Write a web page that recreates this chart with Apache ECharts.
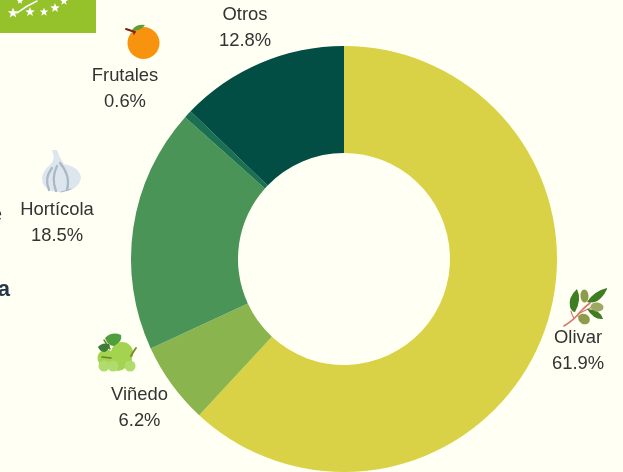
<!DOCTYPE html>
<html><head><meta charset="utf-8">
<style>html,body{margin:0;padding:0;background:#FFFFF3}#c{width:623px;height:472px}</style>
<script src="https://cdn.jsdelivr.net/npm/echarts@6/dist/echarts.min.js"></script>
</head><body><div id="c"></div>
<script>
const categories = ['Olivar','Viñedo','Hortícola','Frutales','Otros'];
const shares = [61.9,6.2,18.5,0.6,12.8];
const colors = ['#DAD246','#8AB44D','#4A9457','#1A7050','#024D44'];
const labelCentres = [[578,351],[139.5,407.5],[57,222.5],[125,88.5],[245,27.5]];

function star(cx,cy,r){
  const p=[];
  for(let i=0;i<10;i++){const a=-Math.PI/2+i*Math.PI/5,q=i%2?r*0.42:r;p.push([cx+q*Math.cos(a),cy+q*Math.sin(a)]);}
  return {type:'polygon',shape:{points:p},style:{fill:'#fff'}};
}
let pathCount=0;
function pathType(d){
  const name='icon'+(pathCount++);
  echarts.graphic.registerShape(name,echarts.graphic.extendPath(d,{}));
  return name;
}
const ic=(d,fill)=>({type:pathType(d),style:{fill:fill}});
const ln=(d,stroke,w)=>({type:pathType(d),style:{fill:'none',stroke:stroke,lineWidth:w,lineCap:'round'}});
const circ=(x,y,r,fill)=>({type:'circle',shape:{cx:x,cy:y,r:r},style:{fill:fill}});
const ell=(x,y,a,b,fill,rot)=>({type:'ellipse',shape:{cx:0,cy:0,rx:a,ry:b},x:x,y:y,rotation:rot||0,style:{fill:fill}});
const txt=(t,x,y,size,weight,color)=>({type:'text',x:x,y:y,style:{text:t,font:`${weight} ${size}px "Liberation Sans"`,fill:color,textAlign:'right',textVerticalAlign:'middle'}});

const graphics=[
  {type:'rect',shape:{x:0,y:0,width:96,height:33},style:{fill:'#95C12B'}},
  star(13,13,5.5),star(30,12,5),star(44,12,4.5),star(55,8,5),star(64,1,4.5),star(20,1,3.5),
  ln('M17 13 Q26 6 37 1','#fff',1.5),
  txt('e',2,215,20,'400','#26364a'),
  txt('a',10,290,22,'700','#26364a'),
  // orange
  circ(143.5,43,16,'#F7930E'),
  ln('M126 29 L135 32','#7A2413',2),
  ln('M134 31 L134 34','#7A2413',1.5),
  ic('M132 30 Q136 24 145 25 Q140 32 132 30 Z','#5E9E36'),
  // garlic
  ic('M52 150 L57 150 Q59 157 64 164 Q80 167 81 178 Q79 188 68 191 Q60 193 52 191 Q42 188 42 178 Q43 170 50 165 Q56 160 52 150 Z','#DDE5EE'),
  ln('M52 168 Q44 178 49 190','#A9B8C2',2.2),
  ln('M57 166 Q51 178 56 191','#A9B8C2',2.2),
  ln('M60 163 Q71 176 67 190','#A9B8C2',2.2),
  ln('M61 192 L71 189','#A9B8C2',1),
  // grapes
  circ(106,358,8.5,'#A2D44F'),circ(122,353,11,'#A2D44F'),circ(118,361,10,'#A2D44F'),circ(125,360,7,'#A2D44F'),
  circ(104,366,5.5,'#B0DC6E'),circ(113,366,5.5,'#B0DC6E'),circ(130,366,5.5,'#B0DC6E'),
  ln('M131 356 Q133 352 136 348','#7F8A2A',2),
  ln('M102 357 L111 358','#6F7F25',1.5),
  ln('M104 340 L110 349','#6F7F25',1.5),
  ic('M105 338 Q112 331 121 335 Q123 341 114 346 Q108 346 105 338 Z','#4E9E3E'),
  ic('M98 347 Q102 342 109 344 Q112 347 105 352 Q100 352 98 347 Z','#3F7D36'),
  // olive branch
  ln('M564 326 Q574 320 581 311 Q586 306 590 303','#D4766A',1.6),
  ln('M574 318 Q572 316 571 311','#D4766A',1.2),
  ln('M578 314 Q590 308 594 306','#D4766A',1.2),
  ln('M578 316 L584 318','#D4766A',1.2),
  ic('M577 289 Q568 297 570 307 Q572 312 575 312 Q582 300 577 289 Z','#3F7D22'),
  ic('M607 288 Q594 291 587 302 Q595 304 601 298 Q605 294 607 289 Z','#3F7D22'),
  ic('M587 309 Q600 309 603 319 Q594 320 587 309 Z','#3F7D22'),
  ell(584.5,296,4,6.5,'#8E9B4C',0.05),
  ell(597,307,6.5,4.5,'#9DA863',-0.15),
  ell(584,319,6,5,'#8E9B4C',-0.5)
];

const chart=echarts.init(document.getElementById('c'),null,{renderer:'canvas'});
chart.setOption({
  backgroundColor:'#FFFFF3',
  animation:false,
  color:colors,
  graphic:{elements:graphics},
  series:[{
    type:'pie',
    center:[344,259],
    radius:[106,213],
    startAngle:90,
    clockwise:true,
    silent:true,
    minAngle:0,
    avoidLabelOverlap:false,
    itemStyle:{borderWidth:0},
    labelLine:{show:false},
    label:{show:true,position:'outside',color:'#333',fontFamily:'"Liberation Sans"',fontSize:18.4,lineHeight:26,align:'center',
      formatter:p=>p.name+'\n'+p.value.toFixed(1)+'%'},
    labelLayout:p=>({x:labelCentres[p.dataIndex][0],y:labelCentres[p.dataIndex][1],align:'center',verticalAlign:'middle',hideOverlap:false,moveOverlap:false}),
    data:categories.map((n,i)=>({name:n,value:shares[i]}))
  }]
});
</script></body></html>
